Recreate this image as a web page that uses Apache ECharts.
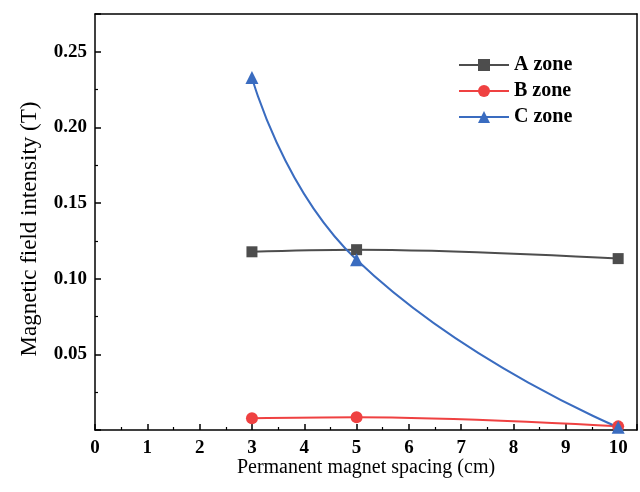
<!DOCTYPE html>
<html>
<head>
<meta charset="utf-8">
<script src="https://cdn.jsdelivr.net/npm/echarts@6/dist/echarts.min.js"></script>
<style>
    html, body { margin: 0; padding: 0; background: #fff; }
    #main { width: 640px; height: 492px; }
</style>
</head>
<body>
<div id="main"></div>
<script>
// 数据
var spacing = [3, 5, 10];
var zoneA = [0.1178, 0.1192, 0.1133];
var zoneB = [0.0077, 0.0084, 0.0024];
var zoneC = [0.2330, 0.1125, 0.0018];

function pairs(xs, ys) {
    var out = [];
    for (var i = 0; i < xs.length; i++) {
        out.push([xs[i], ys[i]]);
    }
    return out;
}

var font = '"Liberation Serif", "Times New Roman", serif';

var myChart = echarts.init(document.getElementById('main'));
var option = {
    animation: false,
    textStyle: { fontFamily: font },
    grid: {
        left: 95,
        right: 3,
        top: 14,
        bottom: 62
    },
    legend: {
        top: 50,
        left: 453,
        orient: 'vertical',
        itemGap: 6,
        itemWidth: 50,
        itemHeight: 15,
        textStyle: {
            fontFamily: font,
            fontWeight: 'bold',
            fontSize: 20,
            color: '#000'
        },
        data: ['A zone', 'B zone', 'C zone']
    },
    xAxis: [{
        type: 'value',
        min: 0,
        max: 10.36,
        interval: 1,
        name: 'Permanent magnet spacing (cm)',
        nameLocation: 'middle',
        nameMoveOverlap: false,
        nameGap: 28,
        nameTextStyle: { fontSize: 20, color: '#000', fontFamily: font },
        axisLine: { show: true, lineStyle: { color: '#000', width: 1.5 } },
        axisTick: { inside: true, length: 6, lineStyle: { color: '#000', width: 1.5 } },
        minorTick: { show: true, splitNumber: 2, length: 3, lineStyle: { color: '#000', width: 1.2 } },
        splitLine: { show: false },
        axisLabel: {
            showMaxLabel: false,
            fontSize: 19,
            fontWeight: 'bold',
            color: '#000',
            margin: 9
        }
    }, {
        type: 'value',
        position: 'top',
        min: 0,
        max: 10.36,
        axisLine: { show: true, onZero: false, lineStyle: { color: '#000', width: 1.5 } },
        axisTick: { show: false },
        axisLabel: { show: false },
        splitLine: { show: false }
    }],
    yAxis: [{
        type: 'value',
        min: 0,
        max: 0.275,
        interval: 0.05,
        name: 'Magnetic field intensity (T)',
        nameLocation: 'middle',
        nameGap: 54,
        nameTextStyle: { fontSize: 23, color: '#000', fontFamily: font, padding: [0, 14, 0, 0] },
        axisLine: { show: true, lineStyle: { color: '#000', width: 1.5 } },
        axisTick: { inside: true, length: 6, lineStyle: { color: '#000', width: 1.5 } },
        minorTick: { show: true, splitNumber: 2, length: 3, lineStyle: { color: '#000', width: 1.2 } },
        splitLine: { show: false },
        axisLabel: {
            showMinLabel: false,
            showMaxLabel: false,
            fontSize: 19,
            fontWeight: 'bold',
            color: '#000',
            margin: 8,
            formatter: function (v) { return v.toFixed(2); }
        }
    }, {
        type: 'value',
        position: 'right',
        min: 0,
        max: 0.275,
        axisLine: { show: true, onZero: false, lineStyle: { color: '#000', width: 1.5 } },
        axisTick: { show: false },
        axisLabel: { show: false },
        splitLine: { show: false }
    }],
    series: [
        {
            name: 'A zone',
            type: 'line',
            smooth: 0.4,
            symbol: 'rect',
            symbolSize: 11,
            data: pairs(spacing, zoneA),
            itemStyle: { color: '#4d4d4d' },
            lineStyle: { width: 2, color: '#4d4d4d' }
        },
        {
            name: 'B zone',
            type: 'line',
            smooth: 0.4,
            symbol: 'circle',
            symbolSize: 12,
            data: pairs(spacing, zoneB),
            itemStyle: { color: '#ef4141' },
            lineStyle: { width: 2, color: '#ef4141' }
        },
        {
            name: 'C zone',
            type: 'line',
            smooth: 0.5,
            symbol: 'triangle',
            symbolSize: 13,
            data: pairs(spacing, zoneC),
            itemStyle: { color: '#3a6cc0' },
            lineStyle: { width: 2, color: '#3a6cc0' }
        }
    ]
};

if (option && typeof option === "object") {
    myChart.setOption(option, true);
}
</script>
</body>
</html>
